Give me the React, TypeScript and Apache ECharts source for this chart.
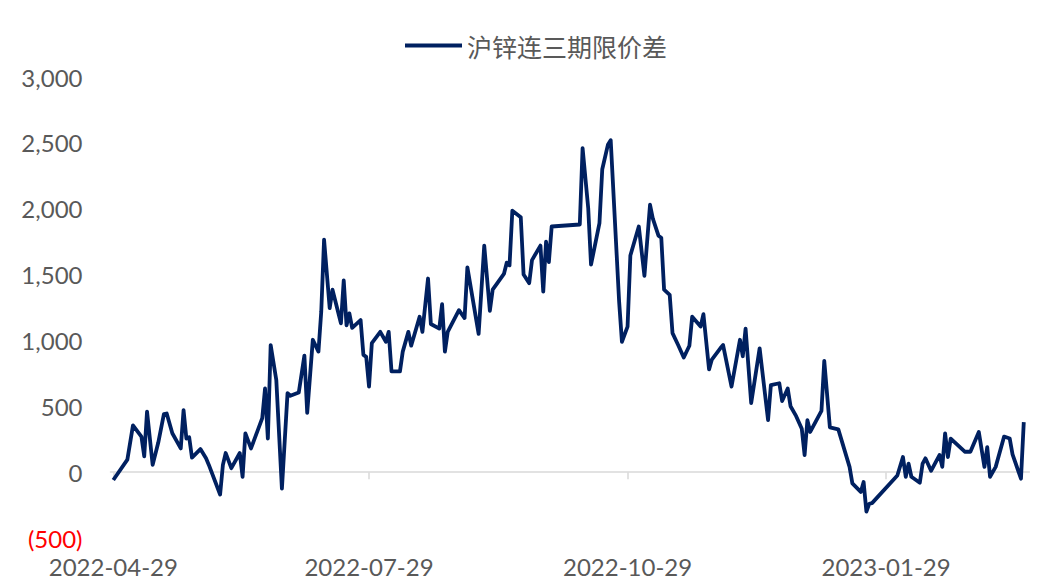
import React, { useEffect, useRef } from 'react';
import * as echarts from 'echarts';

const seriesName = '沪锌连三期限价差';

const dates = [
  '2022-04-29', '2022-05-04', '2022-05-06', '2022-05-09', '2022-05-10', '2022-05-11', '2022-05-13', '2022-05-15',
  '2022-05-17', '2022-05-18', '2022-05-20', '2022-05-23', '2022-05-24', '2022-05-25', '2022-05-26', '2022-05-27',
  '2022-05-30', '2022-06-01', '2022-06-02', '2022-06-06', '2022-06-07', '2022-06-08', '2022-06-10', '2022-06-13',
  '2022-06-14', '2022-06-15', '2022-06-17', '2022-06-21', '2022-06-22', '2022-06-23', '2022-06-24', '2022-06-26',
  '2022-06-28', '2022-06-30', '2022-07-01', '2022-07-04', '2022-07-06', '2022-07-07', '2022-07-09', '2022-07-11',
  '2022-07-12', '2022-07-13', '2022-07-15', '2022-07-16', '2022-07-19', '2022-07-20', '2022-07-21', '2022-07-22',
  '2022-07-23', '2022-07-26', '2022-07-27', '2022-07-28', '2022-07-29', '2022-07-30', '2022-08-02', '2022-08-04',
  '2022-08-05', '2022-08-06', '2022-08-09', '2022-08-10', '2022-08-12', '2022-08-13', '2022-08-16', '2022-08-17',
  '2022-08-19', '2022-08-20', '2022-08-23', '2022-08-24', '2022-08-25', '2022-08-26', '2022-08-30', '2022-09-01',
  '2022-09-02', '2022-09-06', '2022-09-08', '2022-09-10', '2022-09-11', '2022-09-15', '2022-09-16', '2022-09-17',
  '2022-09-18', '2022-09-21', '2022-09-22', '2022-09-24', '2022-09-25', '2022-09-28', '2022-09-29', '2022-09-30',
  '2022-10-01', '2022-10-02', '2022-10-12', '2022-10-13', '2022-10-15', '2022-10-16', '2022-10-19', '2022-10-20',
  '2022-10-22', '2022-10-23', '2022-10-26', '2022-10-27', '2022-10-29', '2022-10-30', '2022-11-02', '2022-11-04',
  '2022-11-06', '2022-11-07', '2022-11-09', '2022-11-10', '2022-11-11', '2022-11-13', '2022-11-14', '2022-11-16',
  '2022-11-18', '2022-11-20', '2022-11-21', '2022-11-24', '2022-11-25', '2022-11-27', '2022-11-28', '2022-12-01',
  '2022-12-02', '2022-12-05', '2022-12-08', '2022-12-09', '2022-12-10', '2022-12-12', '2022-12-15', '2022-12-18',
  '2022-12-19', '2022-12-22', '2022-12-23', '2022-12-25', '2022-12-26', '2022-12-28', '2022-12-30', '2022-12-31',
  '2023-01-01', '2023-01-02', '2023-01-06', '2023-01-07', '2023-01-09', '2023-01-12', '2023-01-16', '2023-01-17',
  '2023-01-20', '2023-01-21', '2023-01-22', '2023-01-23', '2023-01-24', '2023-02-02', '2023-02-04', '2023-02-05',
  '2023-02-06', '2023-02-07', '2023-02-10', '2023-02-11', '2023-02-12', '2023-02-14', '2023-02-17', '2023-02-18',
  '2023-02-19', '2023-02-20', '2023-02-21', '2023-02-26', '2023-02-28', '2023-03-03', '2023-03-05', '2023-03-06',
  '2023-03-07', '2023-03-09', '2023-03-12', '2023-03-14', '2023-03-15', '2023-03-18', '2023-03-19',
];

const spread = [
  -60, 95, 355, 270, 120, 460, 55, 225,
  440, 445, 295, 180, 470, 255, 265, 110,
  175, 105, 55, -170, 55, 145, 30, 145,
  -35, 295, 180, 410, 635, 255, 965, 700,
  -125, 600, 580, 605, 885, 450, 1005, 915,
  1220, 1765, 1245, 1385, 1130, 1455, 1115, 1205,
  1095, 1155, 890, 875, 650, 980, 1065, 990,
  1065, 765, 765, 915, 1065, 960, 1180, 1065,
  1470, 1125, 1090, 1275, 915, 1065, 1230, 1170,
  1555, 1050, 1720, 1225, 1385, 1505, 1590, 1570,
  1985, 1935, 1500, 1435, 1610, 1720, 1370, 1750,
  1595, 1865, 1880, 2460, 2005, 1575, 1890, 2300,
  2485, 2520, 1295, 990, 1105, 1645, 1865, 1490,
  2030, 1925, 1795, 1780, 1385, 1345, 1055, 965,
  870, 960, 1180, 1105, 1200, 780, 855, 940,
  965, 650, 1005, 880, 1090, 525, 940, 395,
  660, 675, 540, 635, 500, 425, 330, 130,
  395, 305, 465, 845, 340, 325, 40, -85,
  -150, -75, -300, -240, -235, -25, 115, -35,
  65, -35, -80, 65, 105, 10, 130, 40,
  295, 115, 255, 155, 155, 305, 40, 190,
  -35, 40, 270, 255, 135, -50, 380,
];

const xTickDates = ['2022-04-29', '2022-07-29', '2022-10-29', '2023-01-29'];
const xAxisStart = '2022-04-28';
const xAxisEnd = '2023-03-21';
const yMin = -500;
const yMax = 3000;
const yStep = 500;

const DAY = 86400000;

function utc(s: string): number {
  const [y, m, d] = s.split('-').map(Number);
  return Date.UTC(y, m - 1, d);
}

const origin = utc(xAxisStart);

function dayIndex(s: string): number {
  return Math.round((utc(s) - origin) / DAY);
}

function formatDay(v: number): string {
  const t = new Date(origin + Math.round(v) * DAY);
  const p = (n: number) => String(n).padStart(2, '0');
  return `${t.getUTCFullYear()}-${p(t.getUTCMonth() + 1)}-${p(t.getUTCDate())}`;
}

function formatNumber(v: number): string {
  const s = Math.abs(v).toLocaleString('en-US');
  return v < 0 ? `(${s})` : s;
}

export default function App() {
  const ref = useRef<HTMLDivElement>(null);

  useEffect(() => {
    if (!ref.current) return;
    const chart = echarts.init(ref.current, undefined, { renderer: 'svg' });
    const tickDays = xTickDates.map(dayIndex);
    const fontFamily = 'Lato, "Noto Sans", sans-serif';
    chart.setOption({
      animation: false,
      backgroundColor: '#ffffff',
      legend: {
        data: [seriesName],
        left: 400,
        top: 28,
        icon: 'rect',
        itemWidth: 57,
        itemHeight: 4,
        textStyle: {
          fontSize: 25,
          color: '#595959',
          fontFamily: '"Noto Sans CJK SC", sans-serif',
        },
      },
      grid: {
        left: 110.5,
        right: 8.6,
        top: 77,
        bottom: 46,
        containLabel: false,
        outerBoundsMode: 'none',
      },
      xAxis: {
        type: 'value',
        min: 0,
        max: dayIndex(xAxisEnd),
        axisLine: {
          show: true,
          onZero: true,
          lineStyle: { color: '#D9D9D9', width: 1.5 },
        },
        axisTick: {
          show: true,
          customValues: tickDays,
          length: 7,
          lineStyle: { color: '#D9D9D9', width: 1.5 },
        },
        axisLabel: {
          customValues: tickDays,
          formatter: (v: number) => formatDay(v),
          margin: 16,
          fontSize: 24,
          color: '#595959',
          fontFamily,
        },
        splitLine: { show: false },
      },
      yAxis: {
        type: 'value',
        min: yMin,
        max: yMax,
        interval: yStep,
        axisLine: { show: false },
        axisTick: { show: false },
        splitLine: { show: false },
        axisLabel: {
          margin: 28,
          fontSize: 24,
          fontFamily,
          color: (v: any) => (Number(v) < 0 ? '#FF0000' : '#595959'),
          formatter: (v: number) => formatNumber(v),
        },
      },
      series: [
        {
          name: seriesName,
          type: 'line',
          data: dates.map((d, i) => [dayIndex(d), spread[i]]),
          showSymbol: false,
          symbol: 'none',
          lineStyle: { color: '#002060', width: 3.8, join: 'round' },
          itemStyle: { color: '#002060' },
        },
      ],
    });
    return () => chart.dispose();
  }, []);

  return (
    <div
      ref={ref}
      style={{ position: 'fixed', left: 0, top: 0, width: 1038, height: 584, background: '#fff' }}
    />
  );
}
